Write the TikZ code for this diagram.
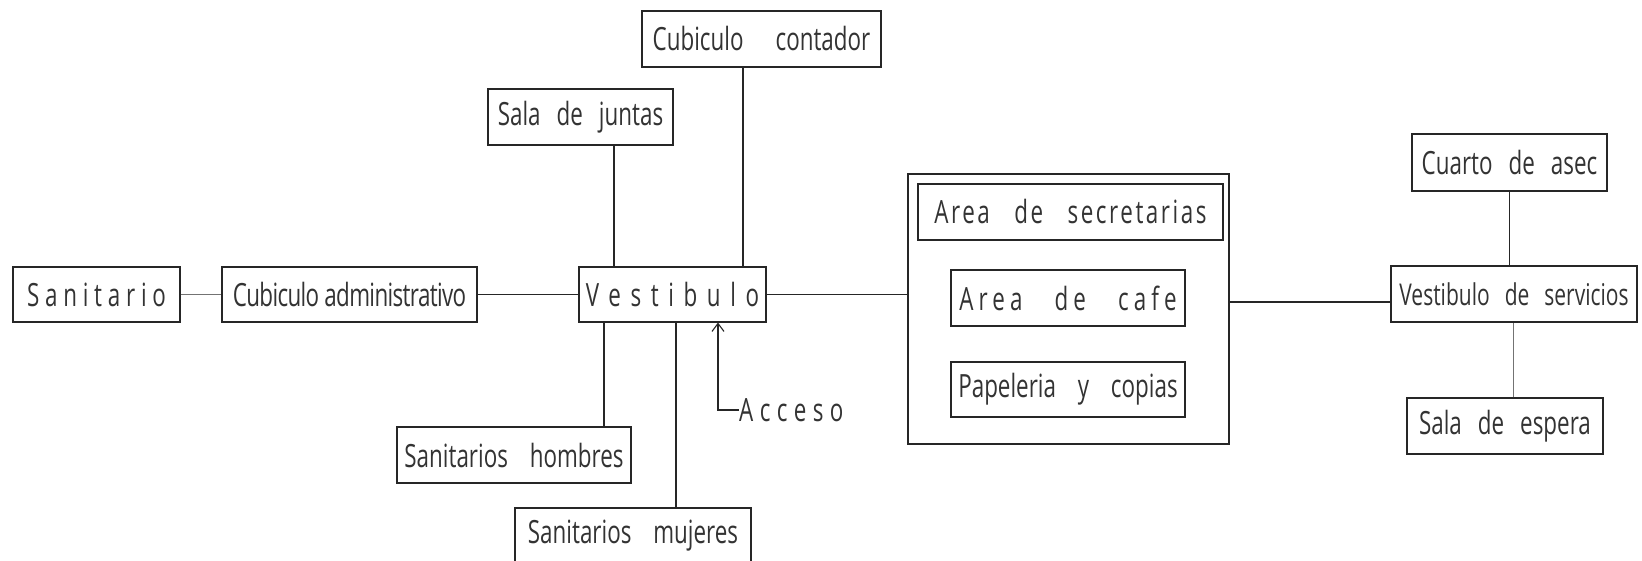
\documentclass[tikz,border=0pt]{standalone}
\usepackage{fontspec}
\setmainfont{Open Sans}[FakeStretch=0.7]
\usetikzlibrary{arrows.meta}
\newcommand{\ls}[2]{{\addfontfeature{LetterSpace=#1}#2}}
\begin{document}
\begin{tikzpicture}[x=1pt,y=-1pt,
  lbl/.style={font=\fontsize{32}{34}\selectfont,text=black!80},
  box/.style={lbl,draw=black!85,line width=1.1pt,inner sep=0pt,minimum height=56pt},
  conn/.style={draw=black!85,line width=1.1pt},
  lconn/.style={draw=black!55,line width=0.9pt}]
\useasboundingbox[fill=white] (0,0) rectangle (1642,561);
% nodes
\node[box,minimum width=167pt,minimum height=55pt] (san) at (96.5,294.5) {\ls{18}{Sanitario}};
\node[box,minimum width=255pt,minimum height=55pt] (cadm) at (349.5,294.5) {\ls{-2}{Cubiculo administrativo}};
\node[box,minimum width=187pt,minimum height=55pt] (vest) at (672.5,294.5) {\ls{30}{Vestibulo}};
\node[box,minimum width=185pt] (sjun) at (580.5,117) {Sala\enspace de\enspace juntas};
\node[box,minimum width=239pt] (ccont) at (761.5,39) {Cubiculo\quad contador};
\node[box,minimum width=234pt] (shom) at (514,455) {Sanitarios\enspace\ hombres};
\node[box,minimum width=236pt] (smuj) at (633,536) {Sanitarios\enspace\ mujeres};
\node[lbl,inner sep=0pt,anchor=west] (acc) at (739,410) {\ls{20}{Acceso}};
\node[draw=black!85,line width=1.1pt,minimum width=321pt,minimum height=270pt,inner sep=0pt] (outer) at (1068.5,309) {};
\node[box,minimum width=305pt] (asec) at (1070.5,212) {\ls{8}{Area\enspace\ de\enspace\ secretarias}};
\node[box,minimum width=234pt] (acafe) at (1068,298) {\ls{16}{Area\quad de\quad cafe}};
\node[box,minimum width=234pt,minimum height=55pt] (pap) at (1068,389.5) {Papeleria\enspace\ y\enspace\ copias};
\node[box,minimum width=195pt,minimum height=57pt] (casec) at (1509.5,162.5) {Cuarto\enspace de\enspace asec};
\node[box,minimum width=246pt,font=\fontsize{30}{32}\selectfont] (vserv) at (1514,294) {Vestibulo\enspace de\enspace servicios};
\node[box,minimum width=196pt] (sesp) at (1505,426) {Sala\enspace de\enspace espera};
% connectors
\draw[lconn] (san.east) -- (cadm.west);
\draw[conn] (cadm.east) -- (vest.west);
\draw[conn] ([xshift=33.5pt]sjun.south) -- ([xshift=33.5pt]sjun.south |- vest.north);
\draw[conn] ([xshift=-18.5pt]ccont.south) -- ([xshift=-18.5pt]ccont.south |- vest.north);
\draw[conn] ([xshift=90pt]shom.north) -- ([xshift=90pt]shom.north |- vest.south);
\draw[conn] ([xshift=43pt]smuj.north) -- ([xshift=43pt]smuj.north |- vest.south);
\draw[conn,-{Straight Barb[length=8pt,width=12pt]}] (acc.west) -| ([xshift=45.5pt]vest.south);
\draw[conn] (vest.east) -- (vest.east -| outer.west);
\draw[conn] ([yshift=-8pt]vserv.west) -- ([yshift=-8pt]vserv.west -| outer.east);
\draw[conn] (casec.south) -- (casec.south |- vserv.north);
\draw[lconn] ([xshift=8pt]sesp.north) -- ([xshift=8pt]sesp.north |- vserv.south);
\end{tikzpicture}
\end{document}
